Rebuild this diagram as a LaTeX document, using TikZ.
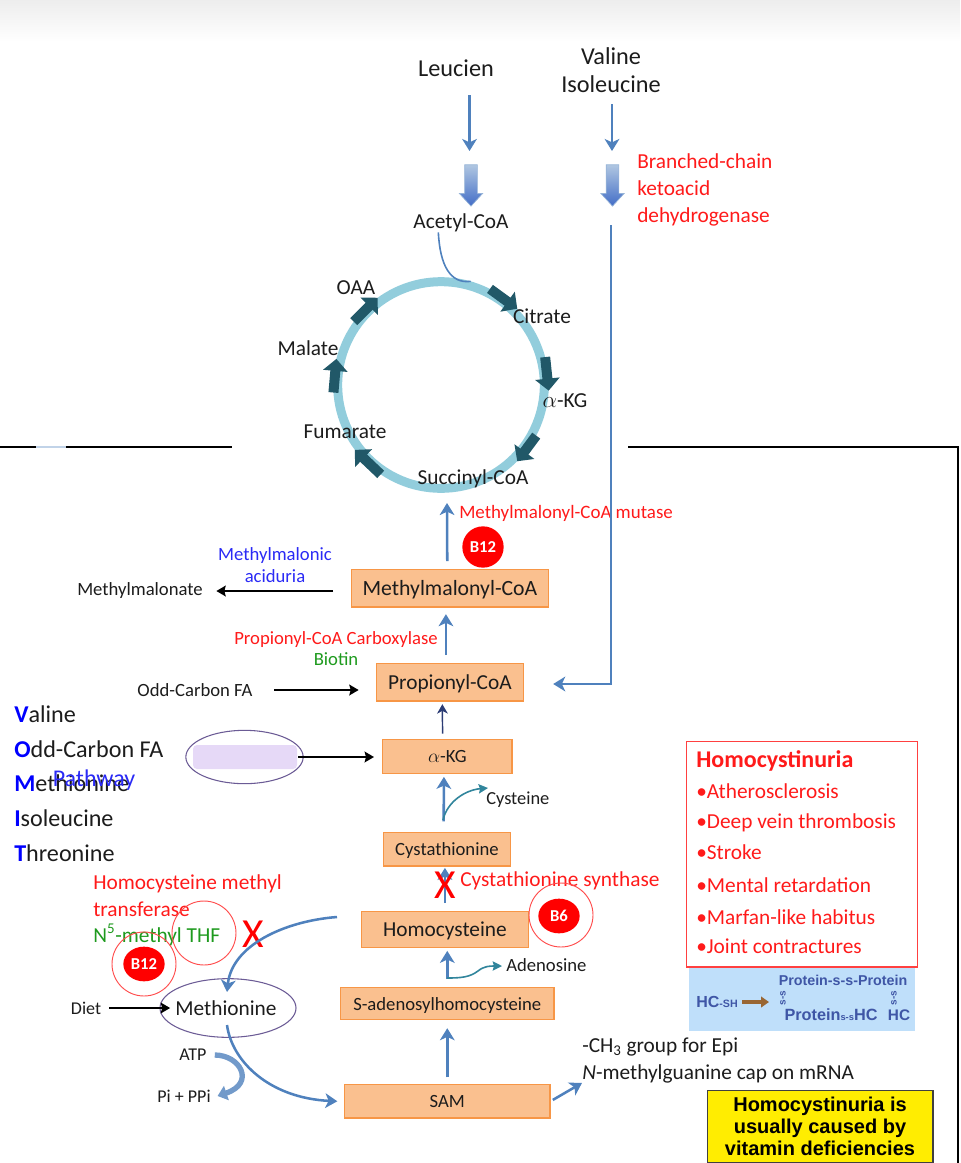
\documentclass[tikz,border=0pt]{standalone}
\usepackage{fontspec}
\setmainfont{Carlito}
\newfontfamily\arialfont{Liberation Sans}
\usetikzlibrary{arrows.meta,shapes.geometric,shapes.arrows}

\definecolor{flowblue}{HTML}{4F81BD}
\definecolor{ringblue}{HTML}{92CDDC}
\definecolor{ringdark}{HTML}{215868}
\definecolor{boxfill}{HTML}{FAC08F}
\definecolor{boxline}{HTML}{F79646}
\definecolor{redtxt}{HTML}{FF1A1A}
\definecolor{bluetxt}{HTML}{2A2AF5}
\definecolor{greentxt}{HTML}{1E9A1E}
\definecolor{darktxt}{HTML}{1C1C1C}
\definecolor{ovalline}{HTML}{6B5B95}
\definecolor{tealline}{HTML}{31859C}
\definecolor{proteinblue}{HTML}{3F56A6}
\definecolor{hiddenfill}{HTML}{E6D9F7}
\definecolor{hsfill}{HTML}{BFDFFA}

\tikzset{
  every node/.style={inner sep=0pt,text=darktxt},
  lbllg/.style={font=\fontsize{18.2}{20.75}\selectfont,align=center},
  lblcyc/.style={font=\fontsize{16}{18}\selectfont,align=center},
  lblmd/.style={font=\fontsize{14}{16.5}\selectfont,align=center},
  lblsm/.style={font=\fontsize{13.5}{15}\selectfont,align=center},
  rednote/.style={font=\fontsize{16}{20.25}\selectfont,text=redtxt,align=left},
  listtxt/.style={font=\fontsize{18.1}{20}\selectfont,anchor=west},
  bluebox/.style={draw=boxline,fill=boxfill,line width=0.9pt,font=\fontsize{14}{16}\selectfont,text depth=0pt,anchor=north west},
  flow/.style={draw=flowblue,line width=1.9pt,-{Stealth[length=9pt,width=11pt,inset=2.5pt]}},
  thinflow/.style={draw=tealline,line width=1.2pt,-{Stealth[length=7pt,width=7pt,inset=1pt]}},
  blackflow/.style={draw=black,line width=1.6pt,-{Stealth[length=7pt,width=8pt,inset=1pt]}},
  cycarrow/.style={draw=ringdark,line width=7.5pt,-{Triangle[length=9pt,width=18pt]}},
  blockdown/.style={single arrow,shape border rotate=270,inner sep=4.5pt,single arrow head extend=4pt,single arrow tip angle=85,
    minimum height=31pt,top color=flowblue!45,bottom color=flowblue!85!blue,draw=flowblue!60,line width=0.5pt},
  badge/.style={ellipse,fill=red,text=white,font=\fontsize{12.5}{14}\selectfont\bfseries,minimum width=31pt,minimum height=26pt},
  ring/.style={circle,draw=red!70,line width=0.7pt,minimum size=48pt},
  bigx/.style={font=\fontsize{31}{31}\selectfont,text=red},
  hcitem/.style={font=\fontsize{16}{18}\selectfont,text=redtxt,anchor=west},
  proteintxt/.style={font=\arialfont\fontsize{10.7}{12}\selectfont\bfseries,text=proteinblue}
}

\begin{document}
\begin{tikzpicture}[x=0.75pt,y=0.75pt,yscale=-1]
  \useasboundingbox (0,0) rectangle (960,1163);

  % frame of the slide
  \shade [top color=black!7,bottom color=white] (0,0) rectangle (960,42);
  \draw [black,line width=1pt] (0,447) -- (232,447);
  \draw [black,line width=1pt] (628,447) -- (958,447) -- (958,1163);
  \draw [flowblue!35,line width=1pt] (36,447) -- (66,447);

  % branched chain amino acids
  \node [lbllg] (leu) at (456,68) {Leucien};
  \node [lbllg] (val) at (611,70) {Valine\\Isoleucine};
  \node [blockdown] (blockleu) at (471,182) {};
  \node [blockdown] (blockval) at (612.5,182) {};
  \node [lblcyc] (acetyl) at (461,223) {Acetyl-CoA};
  \node [rednote,anchor=west] (bckdh) at (637,190) {Branched-chain\\ketoacid\\dehydrogenase};
  \coordinate (leufoot) at (469.5,95);
  \coordinate (leutip) at (469.5,151);
  \coordinate (valfoot) at (612,104);
  \coordinate (valtip) at (612,151);
  \draw [flow] (leufoot) -- (leutip);
  \draw [flow] (valfoot) -- (valtip);

  % krebs cycle
  \node [circle,draw=ringblue,line width=6.75pt,minimum size=155pt] (cycle) at (441,385) {};
  \foreach \a/\b in {63/45,15/-3,-28/-45,236/217,184/166,144/126}
    \draw [cycarrow] (cycle.\a) -- (cycle.\b);
  \draw [flowblue,line width=1.2pt] ([xshift=-17]acetyl.south) .. controls (440,265) and (450,284) .. (cycle.74);
  \node [lblcyc] (oaa) at (356,288) {OAA};
  \node [lblcyc] (citrate) at (542,316) {Citrate};
  \node [lblcyc] (malate) at (308,348) {Malate};
  \node [lblcyc] (akgc) at (565,401) {$\alpha$-KG};
  \node [lblcyc] (fum) at (345,432) {Fumarate};
  \node [lblcyc] (succ) at (473,479) {Succinyl-CoA};

  % orange boxes
  \node [bluebox,font=\fontsize{16.3}{18}\selectfont,minimum width=147.5pt,minimum height=28pt] (mm) at (351,569) {Methylmalonyl-CoA};
  \node [bluebox,font=\fontsize{16}{18}\selectfont,minimum width=110pt,minimum height=28pt] (prop) at (376,663) {Propionyl-CoA};
  \node [bluebox,minimum width=97pt,minimum height=25.5pt] (akg) at (382,739) {$\alpha$-KG};
  \node [bluebox,minimum width=95pt,minimum height=25pt] (cys) at (383,832) {Cystathionine};
  \node [bluebox,font=\fontsize{16}{18}\selectfont,minimum width=125pt,minimum height=27pt] (hcy) at (361,911) {Homocysteine};
  \node [bluebox,minimum width=160pt,minimum height=24pt] (sah) at (340,987) {S-adenosylhomocysteine};
  \node [bluebox,minimum width=154pt,minimum height=25pt] (sam) at (344,1084) {SAM};

  % side texts
  \node [rednote,anchor=west,font=\fontsize{14.2}{15}\selectfont] (mcm) at (459,513) {Methylmalonyl-CoA mutase};
  \node [badge,minimum width=31pt,minimum height=31pt] (b12a) at (483,547) {B12};
  \node [lblmd,text=bluetxt] (maa) at (275,565) {Methylmalonic\\aciduria};
  \node [lblmd] (mma) at (140,591) {Methylmalonate};
  \node [lblmd,text=redtxt] (pcc) at (336,639.5) {Propionyl-CoA Carboxylase};
  \node [lblmd,text=greentxt] (biotin) at (336,659) {Biotin};
  \node [lblmd] (odd) at (195,690) {Odd-Carbon FA};
  \node [lblsm,font=\fontsize{13.8}{15}\selectfont,anchor=west] (cysteine) at (486,800) {Cysteine};
  \node [lblsm,font=\fontsize{14}{15}\selectfont,anchor=west] (adeno) at (506,965) {Adenosine};

  % mnemonic list
  \foreach \y/\c/\r in {714/V/aline,749/O/dd-Carbon FA,783/M/ethionine,818/I/soleucine,853/T/hreonine}
    \node [listtxt] (list\c) at (14,\y) {\textcolor{blue}{\textbf{\c}}\r};
  \node [lblmd,font=\fontsize{18}{20}\selectfont,text=bluetxt] (pathway) at (94,780) {Pathway};

  % covered oval
  \node [ellipse,draw=ovalline,line width=0.8pt,minimum width=88pt,minimum height=40pt] (oval) at (244.5,757) {};
  \node [fill=hiddenfill,rounded corners=3pt,minimum width=78pt,minimum height=18pt] (hidden) at (245,757) {};

  % homocysteine side
  \node [rednote,anchor=north west] (hmt) at (93,874) {Homocysteine methyl\\transferase};
  \node [rednote,text=greentxt,anchor=west] (thf) at (93,935) {N\textsuperscript{5}-methyl THF};
  \node [ring] (ringthf) at (204,933) {};
  \node [ring] (ringb12) at (144,964) {};
  \node [badge] (b12b) at (144,964) {B12};
  \node [bigx] (xa) at (253,934) {X};
  \node [rednote,anchor=west] (cbs) at (460,881) {Cystathionine synthase};
  \node [ring] (ringb6) at (561,915) {};
  \node [badge] (b6) at (559,916) {B6};

  \node [ellipse,draw=ovalline,line width=0.8pt,minimum width=102pt,minimum height=44pt] (met) at (228,1008) {};
  \node [font=\fontsize{16}{18}\selectfont] (metlbl) at (226,1008) {Methionine};
  \node [lblsm] (diet) at (86,1008) {Diet};
  \node [lblsm] (atp) at (193,1055) {ATP};
  \node [lblsm] (pi) at (184,1096) {Pi + PPi};
  \node [rednote,anchor=west,text=darktxt] (epi) at (582,1060) {-CH\textsubscript{3} group for Epi\\\textit{N}-methylguanine cap on mRNA};

  % homocystinuria panel
  \node [draw=red!75,line width=0.9pt,minimum width=173pt,minimum height=169pt,anchor=north west] (panel) at (686,741) {};
  \node [hcitem,font=\fontsize{18}{20}\selectfont\bfseries] (hctitle) at (696,761) {Homocystinuria};
  \foreach \y/\t [count=\i] in {791/Atherosclerosis,823/Deep vein thrombosis,852/Stroke,885/Mental retardation,917/Marfan-like habitus,946/Joint contractures}
    \node [hcitem] (hc\i) at (696,\y) {\textbullet\t};

  \node [fill=hsfill,minimum width=169pt,minimum height=47pt,anchor=north west] (hsbox) at (689,968) {};
  \node [proteintxt,font=\arialfont\fontsize{12}{13}\selectfont\bfseries] (hcsh) at (717,1002) {HC{\fontsize{8}{9}\selectfont-SH}};
  \node [proteintxt] (pss) at (843,980) {Protein-s-s-Protein};
  \node [proteintxt,font=\arialfont\fontsize{12.2}{13}\selectfont\bfseries] (phc) at (831,1015) {Protein{\fontsize{7}{8}\selectfont s-s}HC};
  \node [proteintxt,font=\arialfont\fontsize{11.5}{13}\selectfont\bfseries] (hcr) at (899,1015) {HC};
  \node [proteintxt,font=\arialfont\fontsize{7.5}{8}\selectfont\bfseries,rotate=90] (ssl) at (783,998) {s-s};
  \node [proteintxt,font=\arialfont\fontsize{7.5}{8}\selectfont\bfseries,rotate=90] (ssr) at (894,998) {s-s};
  \coordinate (hctip) at (769,1002);
  \draw [draw=brown!80!black,line width=3pt,-{Triangle[length=6pt,width=8pt]}] (hcsh.east) ++(4,0) -- (hctip);

  \node [draw=black!75,line width=1pt,fill=yellow!95!orange,minimum width=169pt,minimum height=54pt,anchor=north west] (note) at (707,1090) {};
  \node [font=\arialfont\fontsize{15}{16.5}\selectfont\bfseries,align=center,text=black] (notetxt) at (820,1126) {Homocystinuria is\\usually caused by\\vitamin deficiencies};

  % free ends of the connectors
  \coordinate (succin) at (447,503);
  \coordinate (longtop) at (611,225);
  \coordinate (longcorner) at (611,684);
  \coordinate (cysbase) at (443,820);
  \coordinate (cystip) at (488,788);
  \coordinate (adbase) at (447,978);
  \coordinate (adtip) at (502,966);
  \coordinate (homoout) at (337,917);
  \coordinate (metin) at (227,992);
  \coordinate (metout) at (227,1025);
  \coordinate (mmfree) at (333,591);

  % main pathway
  \draw [flow] ([xshift=-2]mm.north) ++(0,-8) -- (succin);
  \draw [flow,shorten <=6pt,shorten >=5pt] ([xshift=-3]prop.north) -- ([xshift=-3]mm.south);
  \draw [draw=proteinblue!70!black,line width=1.1pt,-{Stealth[length=7pt,width=8pt,inset=2pt]},shorten <=4pt,shorten >=2pt] ([xshift=-3.5]akg.north) -- ([xshift=-5.7]prop.south);
  \draw [flow,shorten <=8pt,shorten >=2pt] ([xshift=-2.5]cys.north) -- ([xshift=-2.5]akg.south);
  \draw [flow,shorten <=6pt,shorten >=1pt] (hcy.north) -- (hcy.north |- cys.south);
  \draw [flow,shorten <=6pt,shorten >=2pt] (sah.north) -- (sah.north |- hcy.south);
  \draw [flow,shorten <=5pt,shorten >=6pt] (sam.north) -- (sam.north |- sah.south);
  \draw [flow,shorten <=2pt] (sam.east) -- (epi.south west);
  \draw [flow] (longtop) -- (longcorner) -- ([xshift=22]prop.east |- longcorner);
  \draw [thinflow] (cysbase) .. controls (447,802) and (465,790) .. (cystip);
  \draw [thinflow] (adbase) .. controls (462,978) and (470,977) .. (478,971) .. controls (484,966) and (490,966) .. (adtip);
  \node [bigx] (xb) at (445,885) {X};

  % black arrows
  \draw [blackflow,shorten >=10pt] (mmfree) -- (mma.east |- mmfree);
  \draw [blackflow,shorten <=16pt,shorten >=13pt] (odd.east) -- (odd.east -| prop.west);
  \draw [blackflow,shorten <=-4pt,shorten >=6pt] (oval.east) -- (oval.east -| akg.west);
  \draw [blackflow,shorten <=6pt,shorten >=-8pt] (diet.east) -- (met.west);

  % methionine cycle
  \draw [flow] (homoout) .. controls (285,921) and (232,945) .. (metin);
  \draw [flow] (metout) .. controls (232,1062) and (270,1098) .. ([xshift=-5]sam.west);
  \draw [draw=flowblue!80,line width=4pt,-{Triangle[length=7pt,width=11pt]}] ([xshift=6]atp.east) .. controls (240,1055) and (256,1083) .. ([xshift=5]pi.east);
\end{tikzpicture}
\end{document}
